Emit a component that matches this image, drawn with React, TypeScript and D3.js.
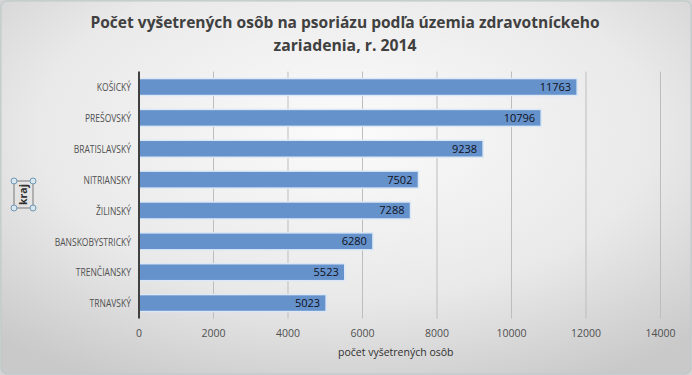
import React, { useRef, useEffect } from 'react';
import * as d3 from 'd3';

const regions = ['KOŠICKÝ', 'PREŠOVSKÝ', 'BRATISLAVSKÝ', 'NITRIANSKY', 'ŽILINSKÝ', 'BANSKOBYSTRICKÝ', 'TRENČIANSKY', 'TRNAVSKÝ'];
const counts = [11763, 10796, 9238, 7502, 7288, 6280, 5523, 5023];
const xTicks = [0, 2000, 4000, 6000, 8000, 10000, 12000, 14000];

const W = 692;
const H = 375;
const FONT = "'Open Sans', 'Liberation Sans', sans-serif";

const App: React.FC = () => {
  const ref = useRef<SVGSVGElement | null>(null);

  useEffect(() => {
    const svg = d3.select(ref.current);
    svg.selectAll('*').remove();

    const defs = svg.append('defs');
    const bg = defs.append('radialGradient')
      .attr('id', 'bg')
      .attr('cx', '50%').attr('cy', '35%').attr('r', '75%');
    bg.append('stop').attr('offset', '0%').attr('stop-color', '#fbfbfb');
    bg.append('stop').attr('offset', '60%').attr('stop-color', '#e9e9e9');
    bg.append('stop').attr('offset', '100%').attr('stop-color', '#c9c9c9');

    svg.append('rect').attr('width', W).attr('height', H).attr('fill', '#d4d4d4');
    svg.append('rect').attr('x', 1).attr('y', 1).attr('width', W - 2).attr('height', H - 2)
      .attr('rx', 6).attr('fill', 'url(#bg)').attr('stroke', '#b8c8c8').attr('stroke-width', 1);

    const left = 139;
    const right = 660.5;
    const top = 71.6;
    const bottom = 318.5;

    const x = d3.scaleLinear().domain([0, 14000]).range([left, right]);
    const y = d3.scaleBand<string>().domain(regions).range([top, bottom]).paddingInner(0.45).paddingOuter(0.225);

    // title
    const title = svg.append('text')
      .attr('text-anchor', 'middle')
      .attr('font-family', FONT)
      .attr('font-weight', 'bold')
      .attr('font-size', 16)
      .attr('fill', '#404040');
    title.append('tspan').attr('x', 345).attr('y', 28).attr('textLength', 509).attr('lengthAdjust', 'spacingAndGlyphs')
      .text('Počet vyšetrených osôb na psoriázu podľa územia zdravotníckeho');
    title.append('tspan').attr('x', 345).attr('y', 51).attr('textLength', 143).attr('lengthAdjust', 'spacingAndGlyphs')
      .text('zariadenia, r. 2014');

    // grid
    svg.append('g').selectAll('line').data(xTicks.slice(1)).join('line')
      .attr('x1', (d) => x(d)).attr('x2', (d) => x(d))
      .attr('y1', top).attr('y2', bottom)
      .attr('stroke', '#bdbdbd').attr('stroke-width', 1);

    // bars
    svg.append('g').selectAll('rect').data(counts).join('rect')
      .attr('x', x(0))
      .attr('y', (_, i) => y(regions[i])!)
      .attr('width', (d) => x(d) - x(0))
      .attr('height', y.bandwidth())
      .attr('fill', '#6592cb')
      .attr('stroke', '#dce8f6')
      .attr('stroke-width', 1.5);

    // value labels
    svg.append('g').selectAll('text').data(counts).join('text')
      .attr('x', (d) => x(d) - 6)
      .attr('y', (_, i) => y(regions[i])! + y.bandwidth() / 2)
      .attr('dy', '0.36em')
      .attr('text-anchor', 'end')
      .attr('font-family', FONT)
      .attr('font-size', 11)
      .attr('fill', '#101020')
      .text((d) => String(d));

    // axis line
    svg.append('line')
      .attr('x1', left).attr('x2', left).attr('y1', top).attr('y2', bottom)
      .attr('stroke', '#404040').attr('stroke-width', 2);

    // category labels (narrowed to mimic a condensed face)
    svg.append('g').selectAll('text').data(regions).join('text')
      .attr('transform', (d) => `translate(${left - 8},${y(d)! + y.bandwidth() / 2}) scale(0.74,1)`)
      .attr('dy', '0.36em')
      .attr('text-anchor', 'end')
      .attr('font-family', FONT)
      .attr('font-size', 11.5)
      .attr('fill', '#505050')
      .text((d) => d);

    // x tick labels
    svg.append('g').selectAll('text').data(xTicks).join('text')
      .attr('x', (d) => x(d))
      .attr('y', 337)
      .attr('text-anchor', 'middle')
      .attr('font-family', FONT)
      .attr('font-size', 10.5)
      .attr('fill', '#505050')
      .text((d) => String(d));

    // x axis title
    svg.append('text')
      .attr('x', x(7000) - 4)
      .attr('y', 356)
      .attr('text-anchor', 'middle')
      .attr('font-family', FONT)
      .attr('font-size', 10.5)
      .attr('fill', '#303030')
      .text('počet vyšetrených osôb');

    // y axis title with selection handles
    const yt = svg.append('g');
    yt.append('rect').attr('x', 14).attr('y', 181).attr('width', 19).attr('height', 27)
      .attr('fill', 'none').attr('stroke', '#606060').attr('stroke-width', 0.8);
    yt.append('text')
      .attr('transform', 'translate(23.5,194.5) rotate(-90)')
      .attr('dy', '0.36em')
      .attr('text-anchor', 'middle')
      .attr('font-family', FONT)
      .attr('font-weight', 'bold')
      .attr('font-size', 10.5)
      .attr('fill', '#303030')
      .text('kraj');
    const handles: [number, number][] = [[14, 181], [33, 181], [14, 208], [33, 208]];
    yt.selectAll('circle').data(handles).join('circle')
      .attr('cx', (d) => d[0]).attr('cy', (d) => d[1]).attr('r', 3)
      .attr('fill', '#d8e6ef').attr('stroke', '#6f97b3').attr('stroke-width', 1);
  }, []);

  return (
    <div style={{ position: 'absolute', left: 0, top: 0 }}>
      <svg ref={ref} width={W} height={H} />
    </div>
  );
};

export default App;
